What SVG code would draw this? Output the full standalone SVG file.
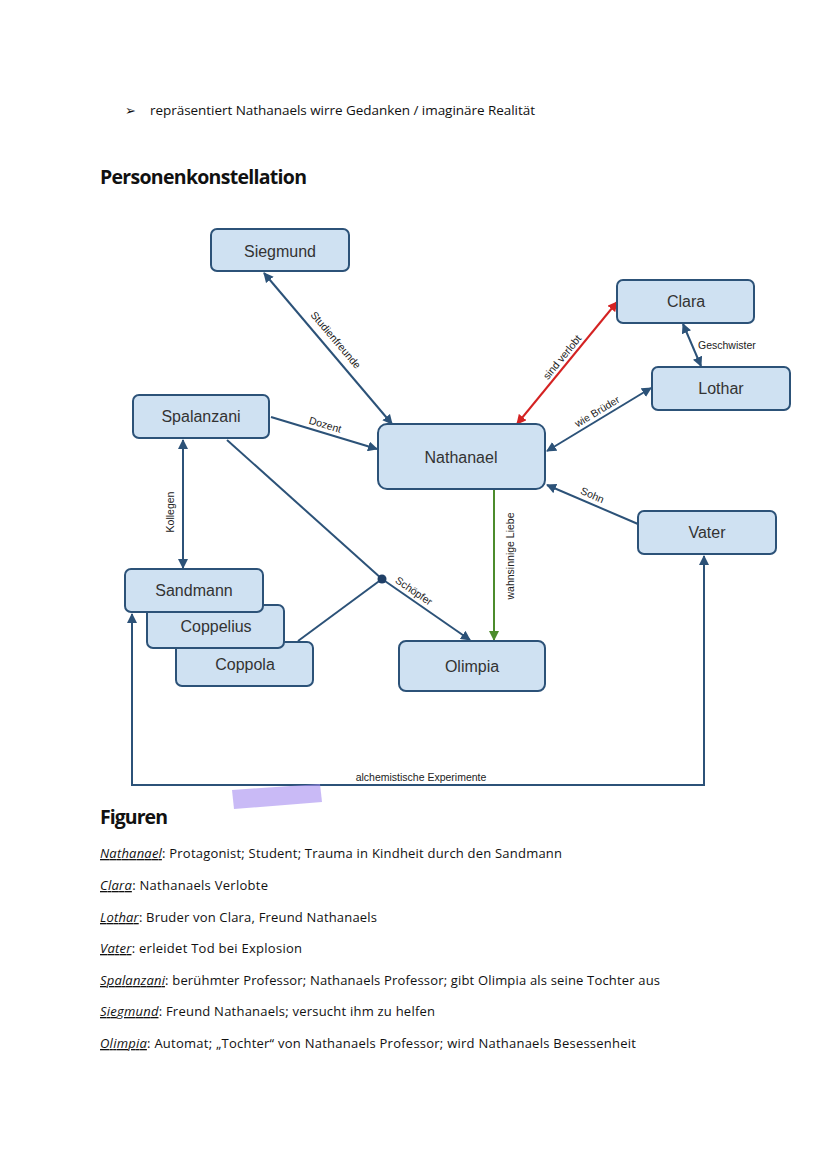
<svg xmlns="http://www.w3.org/2000/svg" width="828" height="1171" viewBox="0 0 828 1171">
<style>
.node rect{fill:#cfe1f2;stroke:#2c5278;stroke-width:2}
.node text{font-family:"Liberation Sans",Arial,sans-serif;font-size:16px;fill:#333;text-anchor:middle;dominant-baseline:central}
.lbl{font-family:"Liberation Sans",Arial,sans-serif;font-size:10.5px;fill:#222;text-anchor:middle}
.doc{font-family:"Open Sans","Noto Sans",sans-serif;fill:#111}
.c{fill:none;stroke:#2c5278;stroke-width:2}
</style>
<defs>
<marker id="ab" viewBox="0 0 10 10" refX="9" refY="5" markerWidth="5" markerHeight="5" orient="auto-start-reverse" markerUnits="strokeWidth"><path d="M0,0 L10,5 L0,10 z" fill="#2c5278"/></marker>
<marker id="ar" viewBox="0 0 10 10" refX="9" refY="5" markerWidth="5" markerHeight="5" orient="auto-start-reverse" markerUnits="strokeWidth"><path d="M0,0 L10,5 L0,10 z" fill="#d42222"/></marker>
<marker id="ag" viewBox="0 0 10 10" refX="9" refY="5" markerWidth="5" markerHeight="5" orient="auto-start-reverse" markerUnits="strokeWidth"><path d="M0,0 L10,5 L0,10 z" fill="#4c8c2c"/></marker>
</defs>
<rect width="828" height="1171" fill="#fff"/>

<text class="doc" x="125" y="115" font-size="13">➢</text>
<text class="doc" x="150" y="115" font-size="13.5" textLength="385">repräsentiert Nathanaels wirre Gedanken / imaginäre Realität</text>
<text class="doc" x="100" y="184" font-size="19.5" font-weight="bold" textLength="207">Personenkonstellation</text>

<g id="connectors">
<line class="c" x1="264" y1="273" x2="392" y2="424" marker-start="url(#ab)" marker-end="url(#ab)"/>
<text class="lbl" transform="translate(330,345) rotate(49.7)" y="-4">Studienfreunde</text>
<line class="c" x1="271" y1="417" x2="377" y2="449" marker-end="url(#ab)"/>
<text class="lbl" transform="translate(323,432) rotate(16.6)" y="-4">Dozent</text>
<line x1="517" y1="424" x2="617" y2="302" stroke="#d42222" stroke-width="2" marker-start="url(#ar)" marker-end="url(#ar)"/>
<text class="lbl" transform="translate(568,362) rotate(-50.7)" y="-4">sind verlobt</text>
<line class="c" x1="683" y1="324" x2="701" y2="366" marker-start="url(#ab)" marker-end="url(#ab)"/>
<text class="lbl" x="698" y="349" style="text-anchor:start">Geschwister</text>
<line class="c" x1="547" y1="451" x2="651" y2="388" marker-start="url(#ab)" marker-end="url(#ab)"/>
<text class="lbl" transform="translate(601,418) rotate(-31.2)" y="-4">wie Brüder</text>
<line class="c" x1="638" y1="524" x2="547" y2="485" marker-end="url(#ab)"/>
<text class="lbl" transform="translate(589,503) rotate(23.2)" y="-5">Sohn</text>
<line x1="494" y1="490" x2="494" y2="640" stroke="#4c8c2c" stroke-width="2" marker-end="url(#ag)"/>
<text class="lbl" transform="translate(510,556) rotate(-90)" dominant-baseline="central">wahnsinnige Liebe</text>
<line class="c" x1="183" y1="440" x2="183" y2="568" marker-start="url(#ab)" marker-end="url(#ab)"/>
<text class="lbl" transform="translate(170,512) rotate(-90)" dominant-baseline="central">Kollegen</text>
<polyline class="c" points="227,440 382,579"/>
<polyline class="c" points="298,641 382,579"/>
<line class="c" x1="382" y1="579" x2="470" y2="640" marker-end="url(#ab)"/>
<circle cx="382" cy="579" r="4.5" fill="#1f3f66"/>
<text class="lbl" transform="translate(409,598) rotate(34.7)" y="-5">Schöpfer</text>
<polyline class="c" points="132,614 132,785 704,785 704,556" marker-start="url(#ab)" marker-end="url(#ab)"/>
<text class="lbl" x="421" y="781">alchemistische Experimente</text>
</g>

<g id="node-siegmund" class="node"><rect x="211" y="229" width="138" height="42" rx="6"/><text x="280" y="251">Siegmund</text></g>
<g id="node-clara" class="node"><rect x="617" y="280" width="137" height="43" rx="6"/><text x="686" y="301">Clara</text></g>
<g id="node-lothar" class="node"><rect x="652" y="367" width="138" height="43" rx="6"/><text x="721" y="388">Lothar</text></g>
<g id="node-spalanzani" class="node"><rect x="133" y="395" width="136" height="43" rx="6"/><text x="201" y="416">Spalanzani</text></g>
<g id="node-nathanael" class="node"><rect x="378" y="424" width="167" height="65" rx="9"/><text x="461" y="457">Nathanael</text></g>
<g id="node-vater" class="node"><rect x="638" y="511" width="138" height="43" rx="6"/><text x="707" y="532">Vater</text></g>
<g id="node-coppola" class="node"><rect x="176" y="642" width="137" height="44" rx="6"/><text x="245" y="664">Coppola</text></g>
<g id="node-coppelius" class="node"><rect x="147" y="605" width="137" height="43" rx="6"/><text x="216" y="626">Coppelius</text></g>
<g id="node-sandmann" class="node"><rect x="125" y="569" width="138" height="43" rx="6"/><text x="194" y="590">Sandmann</text></g>
<g id="node-olimpia" class="node"><rect x="399" y="641" width="146" height="50" rx="7"/><text x="472" y="666">Olimpia</text></g>

<path d="M232,790 L320,784 L322,802 L234,809 z" fill="#a58cf0" opacity="0.6"/>

<text class="doc" x="100" y="824" font-size="19.5" font-weight="bold" textLength="68">Figuren</text>
<g class="doc" font-size="13">
<text x="100" y="858" textLength="462"><tspan font-style="italic" text-decoration="underline">Nathanael</tspan>: Protagonist; Student; Trauma in Kindheit durch den Sandmann</text>
<text x="100" y="890" textLength="168"><tspan font-style="italic" text-decoration="underline">Clara</tspan>: Nathanaels Verlobte</text>
<text x="100" y="922" textLength="277"><tspan font-style="italic" text-decoration="underline">Lothar</tspan>: Bruder von Clara, Freund Nathanaels</text>
<text x="100" y="953" textLength="202"><tspan font-style="italic" text-decoration="underline">Vater</tspan>: erleidet Tod bei Explosion</text>
<text x="100" y="985" textLength="560"><tspan font-style="italic" text-decoration="underline">Spalanzani</tspan>: berühmter Professor; Nathanaels Professor; gibt Olimpia als seine Tochter aus</text>
<text x="100" y="1016" textLength="335"><tspan font-style="italic" text-decoration="underline">Siegmund</tspan>: Freund Nathanaels; versucht ihm zu helfen</text>
<text x="100" y="1048" textLength="536"><tspan font-style="italic" text-decoration="underline">Olimpia</tspan>: Automat; „Tochter“ von Nathanaels Professor; wird Nathanaels Besessenheit</text>
</g>
</svg>
